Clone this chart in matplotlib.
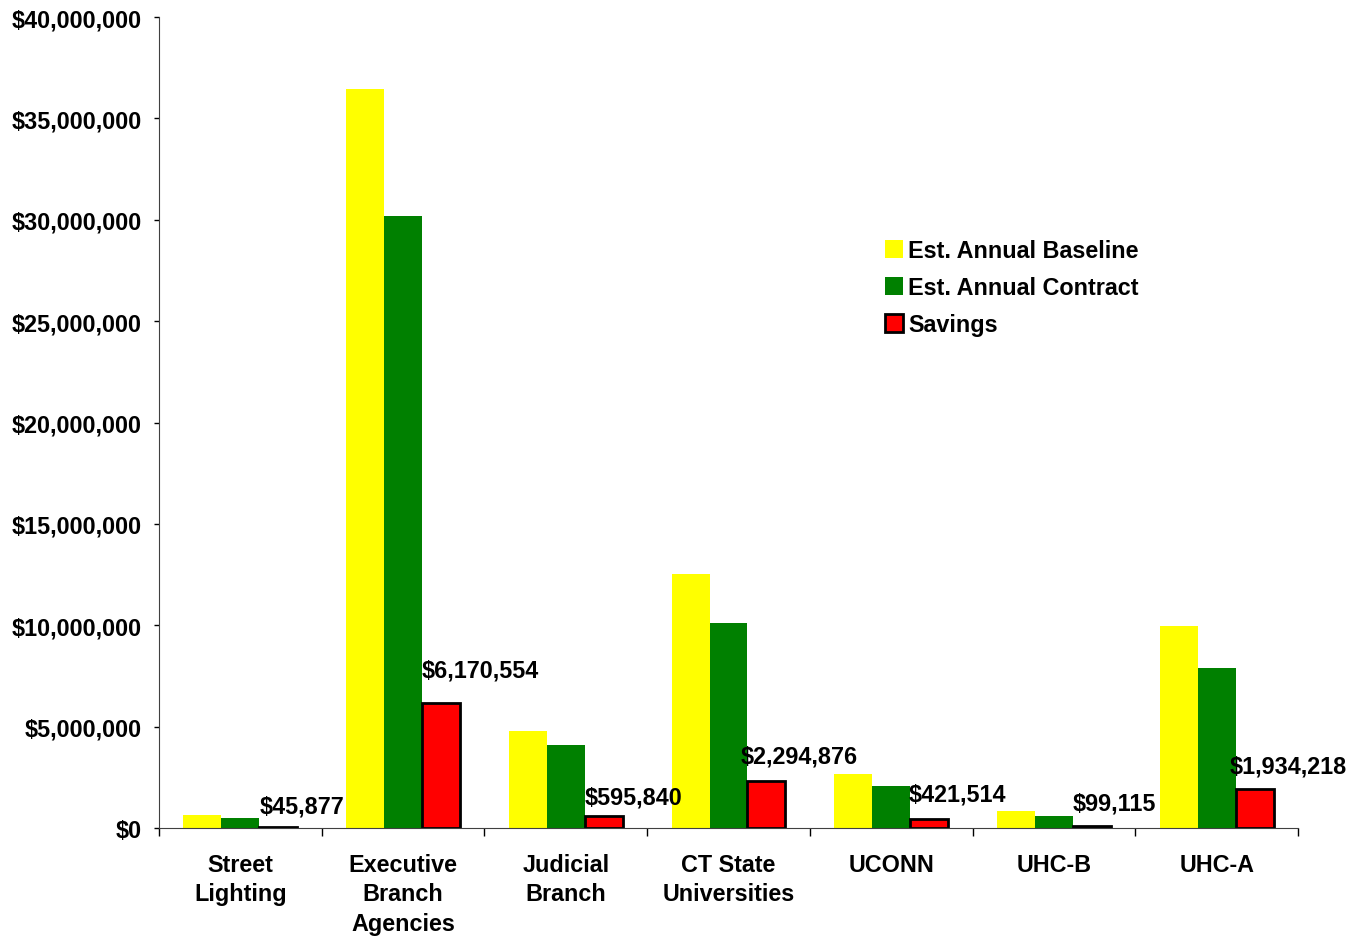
import matplotlib.pyplot as plt
import numpy as np
from matplotlib.ticker import FuncFormatter, FixedLocator

plt.rcParams['font.family'] = ['Liberation Sans', 'DejaVu Sans']
plt.rcParams['font.weight'] = 'bold'

categories = ['Street\nLighting', 'Executive\nBranch\nAgencies', 'Judicial\nBranch',
              'CT State\nUniversities', 'UCONN', 'UHC-B', 'UHC-A']
baseline = [650000, 36450000, 4780000, 12550000, 2650000, 820000, 9980000]
contract = [490000, 30200000, 4090000, 10110000, 2070000, 590000, 7890000]
savings = [45877, 6170554, 595840, 2294876, 421514, 99115, 1934218]
savings_labels = ['$45,877', '$6,170,554', '$595,840', '$2,294,876',
                  '$421,514', '$99,115', '$1,934,218']

# label placement tweaks (x in category units, y in pixels)
label_dx = [0, 0, 0, -0.04, -0.01, 0, -0.035]
label_dy = [15, 26, 12, 19, 19, 16, 16]

dpi = 100
fig = plt.figure(figsize=(1347/dpi, 937/dpi), dpi=dpi)
ax = fig.add_axes([159/1347, 1 - 829/937, (1298-159)/1347, (829-18)/937])

x = np.arange(len(categories))
w = 0.233
fs = 16.8

ax.bar(x - w, baseline, w, color='#FFFF00', label='Est. Annual Baseline')
ax.bar(x, contract, w, color='#008000', label='Est. Annual Contract')
ax.bar(x + w, savings, w, color='#FF0000', edgecolor='black', linewidth=2,
       label='Savings')

for i in range(len(categories)):
    ax.annotate(savings_labels[i], xy=(x[i] + w/2 + label_dx[i], savings[i]),
                xytext=(0, label_dy[i]), textcoords='offset pixels',
                ha='left', va='baseline', fontsize=fs, fontweight='bold')

ax.set_xlim(-0.5, len(categories) - 0.5)
ax.set_ylim(0, 40000000)

ax.yaxis.set_major_locator(FixedLocator(np.arange(0, 40000001, 5000000)))
ax.yaxis.set_major_formatter(FuncFormatter(lambda v, p: '${:,.0f}'.format(v)))
ax.tick_params(axis='y', length=3.6, width=1, pad=9, labelsize=fs)

ax.set_xticks(x)
ax.set_xticklabels(categories, fontsize=fs, linespacing=1.35)
ax.set_xticks(np.arange(-0.5, len(categories), 1), minor=True)
ax.tick_params(axis='x', which='major', length=0, pad=18)
ax.tick_params(axis='x', which='minor', length=5.5, width=1)

for s in ['top', 'right']:
    ax.spines[s].set_visible(False)
ax.spines['left'].set_color('#404040')
ax.spines['bottom'].set_color('#404040')

leg = ax.legend(loc='upper left', bbox_to_anchor=(0.637, 0.726), frameon=False,
                fontsize=fs, handlelength=0.8, handleheight=0.8,
                handletextpad=0.2, labelspacing=0.6, borderpad=0,
                borderaxespad=0)

plt.savefig('out.png', dpi=dpi)
